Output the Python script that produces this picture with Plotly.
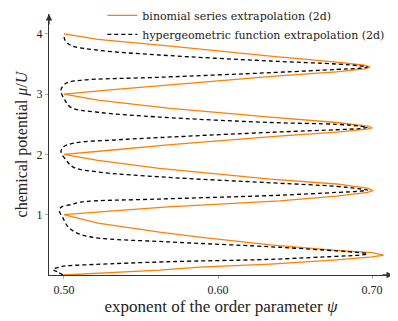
import plotly.graph_objects as go

# binomial series extrapolation (2d): chemical potential mu/U vs exponent psi
binom_mu = [0.00, 0.04, 0.08, 0.13, 0.18, 0.25, 0.30, 0.33, 0.37, 0.41, 0.50, 0.63, 0.71, 0.86, 1.00,
            1.06, 1.13, 1.23, 1.31, 1.37, 1.40, 1.44, 1.51, 1.59, 1.77, 1.90, 2.00,
            2.07, 2.16, 2.30, 2.37, 2.42, 2.44, 2.47, 2.53, 2.62, 2.77, 2.90, 3.00,
            3.07, 3.15, 3.30, 3.37, 3.42, 3.45, 3.48, 3.53, 3.63, 3.80, 3.91, 4.00]
binom_psi = [0.500, 0.530, 0.562, 0.588, 0.634, 0.677, 0.700, 0.7075, 0.700, 0.677, 0.634, 0.588, 0.562, 0.522, 0.500,
             0.530, 0.5675, 0.640, 0.677, 0.697, 0.7006, 0.697, 0.677, 0.634, 0.562, 0.522, 0.500,
             0.530, 0.5675, 0.637, 0.677, 0.697, 0.700, 0.697, 0.677, 0.634, 0.5675, 0.522, 0.500,
             0.530, 0.5675, 0.637, 0.677, 0.695, 0.6987, 0.695, 0.677, 0.634, 0.5675, 0.522, 0.500]

# hypergeometric function extrapolation (2d)
hyper_mu = [0.00, 0.05, 0.095, 0.13, 0.15, 0.175, 0.22, 0.26, 0.31, 0.33, 0.35, 0.37, 0.40, 0.46, 0.55,
            0.62, 0.69, 0.80, 0.94, 1.07, 1.13, 1.17, 1.21, 1.26, 1.32, 1.37, 1.39, 1.41, 1.43, 1.47,
            1.53, 1.62, 1.71, 1.79, 1.91, 2.04, 2.12, 2.19, 2.24, 2.28, 2.37, 2.41, 2.43, 2.45, 2.47,
            2.50, 2.53, 2.62, 2.70, 2.78, 2.90, 3.07, 3.18, 3.23, 3.28, 3.36, 3.41, 3.43, 3.45, 3.47,
            3.50, 3.55, 3.65, 3.73, 3.81, 3.90, 4.00]
hyper_psi = [0.4995, 0.496, 0.4928, 0.497, 0.501, 0.520, 0.5675, 0.634, 0.677, 0.692, 0.697, 0.692, 0.677, 0.640, 0.5675,
             0.520, 0.509, 0.5026, 0.4995, 0.4970, 0.4985, 0.505, 0.511, 0.562, 0.637, 0.677, 0.692, 0.697, 0.692, 0.677,
             0.634, 0.5675, 0.522, 0.506, 0.5013, 0.4981, 0.4994, 0.507, 0.533, 0.562, 0.637, 0.677, 0.692, 0.697, 0.692,
             0.677, 0.634, 0.562, 0.522, 0.5045, 0.5006, 0.4981, 0.5013, 0.511, 0.562, 0.637, 0.677, 0.692, 0.697, 0.692,
             0.677, 0.634, 0.562, 0.522, 0.5045, 0.5006, 0.500]

x_ticks = [0.50, 0.60, 0.70]
x_tick_labels = ['0.50', '0.60', '0.70']
y_ticks = [1, 2, 3, 4]

serif = 'Liberation Serif'
axis_col = '#333333'

fig = go.Figure()

fig.add_trace(go.Scatter(
    x=binom_psi, y=binom_mu, mode='lines',
    name='binomial series extrapolation (2d)',
    line=dict(color='#ff8000', width=1.3)
))

fig.add_trace(go.Scatter(
    x=hyper_psi, y=hyper_mu, mode='lines',
    name='hypergeometric function extrapolation (2d)',
    line=dict(color='black', width=1.3, dash='4px,3px'),
    line_shape='spline'
))

# the page body adds an 8px offset, so the figure is sized 8px smaller
fig.update_layout(
    width=390, height=313,
    margin=dict(l=41, r=5, t=6, b=46, autoexpand=False),
    paper_bgcolor='white', plot_bgcolor='white',
    font=dict(family=serif, size=12, color='#222222'),
    showlegend=True,
    legend=dict(x=0.155, y=1.05, xref='paper', yref='paper',
                xanchor='left', yanchor='top',
                bgcolor='rgba(0,0,0,0)',
                font=dict(family='DejaVu Serif', size=11),
                itemwidth=30, tracegroupgap=0),
    xaxis=dict(
        range=[0.4903, 0.7136],
        tickvals=x_ticks, ticktext=x_tick_labels,
        showgrid=False, zeroline=False, automargin=False,
        showline=True, linecolor=axis_col, linewidth=1.3,
        ticks='outside', ticklen=3, tickcolor='#aaaaaa',
        tickfont=dict(size=12),
        title=dict(text='exponent of the order parameter <i>ψ</i>',
                   font=dict(size=17), standoff=2)
    ),
    yaxis=dict(
        range=[0, 4.33],
        tickvals=y_ticks,
        showgrid=False, zeroline=False, automargin=False,
        showline=True, linecolor=axis_col, linewidth=1.3,
        ticks='outside', ticklen=3, tickcolor='#aaaaaa',
        tickfont=dict(size=12),
        title=dict(text='chemical potential <i>μ</i>/<i>U</i>',
                   font=dict(size=16), standoff=4)
    )
)

# arrow heads at the ends of the axes
fig.add_annotation(x=1, y=0, xref='paper', yref='paper', ax=-12, ay=0,
                   text='', showarrow=True, arrowhead=2, arrowsize=1,
                   arrowwidth=1.3, arrowcolor=axis_col)
fig.add_annotation(x=0, y=1, xref='paper', yref='paper', ax=0, ay=12,
                   text='', showarrow=True, arrowhead=2, arrowsize=1,
                   arrowwidth=1.3, arrowcolor=axis_col)

fig.write_html('out.html')
